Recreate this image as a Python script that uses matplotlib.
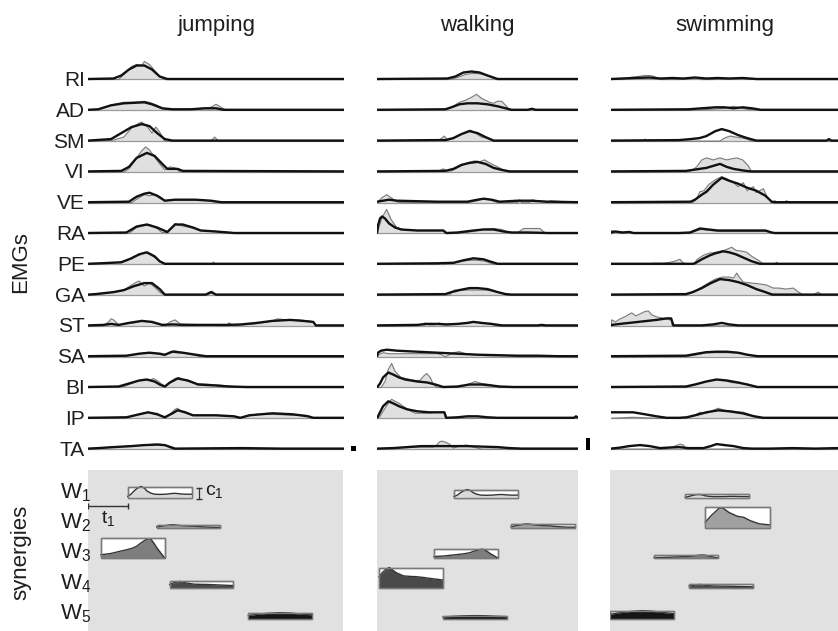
import matplotlib
matplotlib.use('Agg')
import matplotlib.pyplot as plt
from matplotlib.patches import Rectangle
from matplotlib.transforms import blended_transform_factory
import numpy as np

plt.rcParams['font.family'] = ['Liberation Sans', 'DejaVu Sans']
plt.rcParams['mathtext.fontset'] = 'custom'
plt.rcParams['mathtext.rm'] = 'Liberation Sans'
plt.rcParams['mathtext.it'] = 'Liberation Sans:italic'

# ---------------- data ----------------
MUSCLES = ['RI', 'AD', 'SM', 'VI', 'VE', 'RA', 'PE', 'GA', 'ST', 'SA', 'BI', 'IP', 'TA']
BEHAVIORS = ['jumping', 'walking', 'swimming']
CYCLE_MS = {'jumping': 2000, 'walking': 1570, 'swimming': 1775}

# EMG curves: muscle -> (time in % of cycle, amplitude in a.u.)
JUMP_EMG = {
    'RI': ([0, 12, 14, 17, 19, 21, 22, 24, 26, 28, 30, 100], [0, 0, 5, 13, 15, 14, 18, 15, 9, 3, 0, 0]),
    'AD': ([0, 4, 9, 14, 18, 22, 24, 27, 30, 38, 44, 48, 50, 52, 54, 100], [0, 1, 5, 8, 8, 9, 8, 5, 1, 1, 2, 3, 6, 3, 0, 0]),
    'SM': ([0, 10, 14, 17, 20, 21, 23, 25, 26.5, 28, 30, 48, 49.5, 51, 100], [0, 1, 4, 13, 18, 19, 15, 8, 14, 9, 0, 0, 4, 0, 0]),
    'VI': ([0, 14, 16, 19, 21, 22.5, 24, 26, 28, 30, 32, 34, 36, 100], [0, 0, 3, 14, 21, 25, 22, 15, 8, 2, 5, 4, 0, 0]),
    'VE': ([0, 17, 20, 22, 24, 26, 28, 30, 36, 44, 49, 52, 100], [0, 0, 5, 8, 7, 8, 6, 2, 3, 3, 1, 0, 0]),
    'RA': ([0, 16, 19, 22, 24, 27, 29, 31, 33, 34, 36, 40, 44, 50, 56, 58, 100], [0, 0, 6, 8, 9, 5, 1, 1, 6, 10, 8, 6, 3, 2, 1, 0, 0]),
    'PE': ([0, 5, 12, 16, 18, 20, 22, 24, 26, 28, 30, 48, 49, 50, 100], [0, 1, 2, 5, 8, 9, 12, 10, 7, 3, 0, 0, 2, 0, 0]),
    'GA': ([0, 3, 10, 14, 17, 19, 20, 22, 24, 26, 28, 30, 47, 48.5, 50, 100], [0, 1, 3, 5, 10, 13, 14, 9, 12, 8, 3, 0, 0, 4, 0, 0]),
    'ST': ([0, 6, 8, 9, 10, 12, 18, 21, 24, 30, 32, 34, 36, 54, 55, 57, 60, 65, 70, 72, 74, 78, 82, 86, 88, 89, 100],
           [0, 0, 4, 7, 6, 1, 3, 5, 4, 0, 4, 6, 2, 0, 3, 0, 1, 2, 4, 5, 7, 6, 6, 5, 4, 0, 0]),
    'SA': ([0, 16, 20, 23, 27, 30, 32, 34, 37, 41, 44, 100], [0, 1, 3, 4, 3, 1, 5, 6, 4, 2, 0, 0]),
    'BI': ([0, 14, 17, 20, 22, 24, 25.5, 27, 29, 30, 32, 34, 35.5, 38, 42, 48, 53, 60, 100],
           [0, 1, 4, 7, 8, 7, 9, 7, 3, 1, 5, 9, 10, 7, 4, 3, 2, 0, 0]),
    'IP': ([0, 16, 20, 23, 25, 27, 29, 30, 32, 34, 35, 37, 41, 50, 57, 59, 62, 66, 72, 80, 85, 87, 100],
           [0, 1, 4, 6, 5, 5, 2, 0, 4, 9, 10, 6, 3, 3, 2, 0, 2, 4, 4, 3, 3, 0, 0]),
    'TA': ([0, 4, 10, 17, 22, 26, 28, 30, 33, 100], [0, 1, 2, 3, 4, 5, 5, 4, 0, 0]),
}
JUMP_FIT = {
    'RI': ([0, 10, 13, 16, 19, 22, 25, 28, 31, 100], [0.5, 1, 4, 10, 14, 14, 10, 3, 0.5, 0.5]),
    'AD': ([0, 4, 9, 14, 18, 22, 25, 29, 33, 40, 46, 50, 53, 100], [0.5, 1, 5, 7, 7.5, 8, 6, 2, 1, 1, 2, 2, 0.5, 0.5]),
    'SM': ([0, 9, 13, 17, 21, 24, 27, 30, 33, 100], [0.5, 2, 8, 14, 17, 15, 8, 2, 0.5, 0.5]),
    'VI': ([0, 13, 16, 19, 23, 26, 29, 31, 35, 37, 100], [0.5, 1, 5, 14, 19, 16, 8, 3, 3, 1, 0.5]),
    'VE': ([0, 16, 19, 22, 24, 27, 30, 34, 42, 48, 52, 100], [0.5, 1, 6, 9, 10, 7, 2, 3, 3, 2, 0.5, 0.5]),
    'RA': ([0, 15, 19, 23, 27, 31, 34, 37, 41, 44, 50, 57, 100], [0.5, 1, 7, 9, 6, 1.5, 9, 9, 6, 3, 2, 0.5, 0.5]),
    'PE': ([0, 5, 13, 17, 20, 23, 26, 28, 30, 100], [0.5, 1, 2, 6, 10, 12, 8, 3, 0.5, 0.5]),
    'GA': ([0, 3, 10, 14, 18, 22, 25, 28, 30, 46, 48, 50, 100], [0.5, 1, 3, 5, 9, 12, 12, 6, 0.5, 0.5, 3, 0.5, 0.5]),
    'ST': ([0, 6, 9, 12, 16, 21, 25, 29, 33, 37, 55, 60, 66, 72, 79, 84, 88, 89, 100],
           [0.5, 1, 2, 1, 3, 5, 4, 1, 1.5, 1, 1, 1.5, 3, 5, 6, 5, 4, 0.5, 0.5]),
    'SA': ([0, 15, 20, 24, 28, 30, 33, 37, 42, 46, 100], [0.5, 1, 3, 4, 3, 2, 5, 4, 2, 0.5, 0.5]),
    'BI': ([0, 12, 16, 20, 23, 26, 28, 30, 32, 35, 39, 43, 50, 55, 62, 100],
           [0.5, 1, 4, 7, 8, 6, 3, 1, 5, 9, 7, 3, 2, 1, 0.5, 0.5]),
    'IP': ([0, 15, 20, 23.5, 27, 30, 33, 35, 38, 41, 50, 57, 59.5, 63, 72, 80, 86, 88, 100],
           [0.5, 1, 4, 6, 4, 1, 5, 8, 6, 3, 3, 2, 0.5, 3, 5, 4, 2, 0.5, 0.5]),
    'TA': ([0, 4, 10, 17, 22, 27, 30, 34, 60, 75, 100], [0.5, 1, 2, 3, 4, 4.5, 4, 0.5, 1, 0.5, 0.5]),
}

WALK_EMG = {
    'RI': ([0, 36, 40, 44, 47, 50, 53, 56, 59, 100], [0, 0, 2, 5, 6, 6, 5, 3, 0, 0]),
    'AD': ([0, 35, 38, 41, 44, 47, 49.5, 52, 54, 56, 58, 60, 62, 64, 66, 76, 77, 78, 100],
           [0, 1, 4, 8, 10, 13, 16, 12, 10, 8, 7, 9, 9, 5, 0, 0, 2, 0, 0]),
    'SM': ([0, 31, 33.5, 35, 37, 41, 44, 46.5, 49, 52, 55, 58, 100], [0, 1, 5, 1, 2, 6, 9, 11, 8, 4, 3, 0, 0]),
    'VI': ([0, 31, 33, 35, 37, 41, 45, 48.5, 51, 53.5, 56, 60, 63, 66, 100], [0, 1, 3, 1, 1, 5, 9, 11, 10, 12, 9, 5, 2, 0, 0]),
    'VE': ([0, 0.5, 2.5, 4.8, 7, 9.8, 12, 45, 50, 53, 56, 60, 70, 71, 72, 76, 77, 85, 86, 100],
           [0, 1, 5, 8, 5, 1, 0, 0, 2, 4, 3, 0, 0, 3, 0, 0, 3, 0, 2, 0]),
    'RA': ([0, 0.5, 2.5, 4.8, 7, 9.8, 13, 20, 33, 34, 40, 48, 52, 58, 62, 66, 70, 73, 78, 81, 84, 100],
           [0, 3, 16, 24, 14, 6, 4, 3, 3, 0, 0, 2, 4, 5, 4, 1, 1, 5, 5, 5, 0, 0]),
    'PE': ([0, 31, 32, 33, 38, 42, 46, 50, 54, 58, 100], [0, 0, 2, 0, 1, 3, 4, 4, 3, 0, 0]),
    'GA': ([0, 36, 38.5, 42, 46, 50, 54, 58, 62, 65, 100], [0, 0, 5, 5, 5, 5, 5, 4, 2, 0, 0]),
    'ST': ([0, 20, 24, 26, 29, 31, 33, 35, 40, 45, 48, 52, 56, 60, 100], [0, 0, 3, 1, 1, 3, 1, 1, 2, 3, 4, 3, 2, 0, 0]),
    'SA': ([0, 0.7, 3, 6, 10, 20, 30, 32, 34, 36, 38, 41, 44, 48, 55, 65, 70, 85, 90, 100],
           [0, 2, 4, 3, 3, 3, 3, 2, 0, 2, 4, 5, 3, 2, 1, 1, 0, 0, 1, 0]),
    'BI': ([0, 2, 4, 5.6, 7.3, 9, 12, 16.4, 19, 21.4, 23, 24.7, 26.5, 28, 30, 40, 44, 48.8, 52, 56, 61, 100],
           [0, 0, 6, 18, 24, 16, 10, 8, 7, 7, 11, 14, 10, 3, 0, 0, 2, 6, 4, 3, 0, 0]),
    'IP': ([0, 1.5, 4, 6, 7.3, 9, 11, 13, 16, 19, 24, 30, 33.5, 34, 100], [0, 2, 10, 16, 19, 17, 15, 12, 8, 5, 5, 6, 6, 0, 0]),
    'TA': ([0, 8, 20, 28, 29.7, 31, 32.2, 34, 36, 38, 41, 44.6, 48, 52, 100], [0, 1, 2, 2, 4, 7, 8, 7, 5, 1, 3, 4, 2, 0, 0]),
}
WALK_FIT = {
    'RI': ([0, 35, 39, 43, 47, 51, 55, 60, 100], [0.5, 1, 3, 7, 8, 7, 4, 0.5, 0.5]),
    'AD': ([0, 34, 37, 41, 45, 50, 55, 60, 64, 67, 75, 77, 79, 100], [0.5, 1, 3, 6, 7, 7, 6, 4, 2, 0.5, 0.5, 1.5, 0.5, 0.5]),
    'SM': ([0, 30, 34, 38, 42, 46, 50, 54, 58, 100], [0.5, 1, 1, 3, 7, 10, 8, 4, 0.5, 0.5]),
    'VI': ([0, 34, 38, 42, 46, 50, 54, 58, 62, 66, 100], [0.5, 1, 3, 7, 9, 10, 8, 4, 2, 0.5, 0.5]),
    'VE': ([0, 3, 6, 10, 30, 45, 50, 53, 57, 61, 70, 76, 85, 100], [1, 2, 3, 2, 1, 1, 3, 4, 3, 1, 2, 2, 1, 0.5]),
    'RA': ([0, 0.5, 1.5, 2.5, 4, 6, 9, 12, 20, 33, 34.5, 40, 48, 53, 58, 63, 67, 75, 85, 100],
           [0, 8, 15, 17, 15, 10, 6, 4, 3, 3, 0.5, 1, 3, 4, 4, 2, 1, 1, 0.5, 0.5]),
    'PE': ([0, 30, 38, 43, 48, 53, 56, 60, 100], [0.5, 1, 1.5, 4, 6, 5, 3, 0.5, 0.5]),
    'GA': ([0, 34, 37, 41, 46, 50, 55, 60, 64, 67, 100], [0.5, 1, 3, 5, 7, 7, 6, 3, 1, 0.5, 0.5]),
    'ST': ([0, 20, 25, 30, 35, 40, 45, 48, 52, 57, 62, 80, 82, 84, 100], [0.5, 1, 2, 2, 1.5, 2, 3, 4, 3, 2, 0.5, 0.5, 1, 0.5, 0.5]),
    'SA': ([0, 0.5, 2, 4.8, 10, 20, 30, 40, 50, 60, 70, 80, 90, 100], [0, 4, 6, 7, 6, 5, 4, 3, 2, 1.5, 1, 1, 0.5, 0.5]),
    'BI': ([0, 1.5, 3, 5.6, 8, 11, 14, 17, 20, 25, 29, 33, 40, 46, 52, 57, 61, 68, 100],
           [0, 4, 10, 15, 13, 10, 8, 7, 6, 5, 3, 0.5, 1, 3, 3, 2, 1, 0.5, 0.5]),
    'IP': ([0, 1, 3, 5.6, 8, 11, 15, 20, 26, 33.5, 34.5, 40, 45, 50, 55, 60, 98, 99, 100],
           [0, 4, 12, 17, 15, 12, 9, 7, 6, 6, 0.5, 1, 2, 2, 1, 0.5, 0.5, 2, 0.5]),
    'TA': ([0, 8, 15, 22, 30, 38, 45, 52, 60, 66, 72, 100], [0.5, 1, 2, 3, 3, 3, 3, 2.5, 2, 1, 0.5, 0.5]),
}

SWIM_EMG = {
    'RI': ([0, 5, 8.4, 12, 15, 17.2, 19, 21.6, 30, 35, 37.7, 40, 45, 55, 64, 100], [0, 0, 2, 3, 4, 4, 3, 0, 0, 1, 2, 0, 0, 1, 0, 0]),
    'AD': ([0, 36, 44, 50, 52, 54, 56, 60, 66, 100], [0, 0, 1, 2, 3, 4, 3, 1, 0, 0]),
    'SM': ([0, 14, 15, 16, 48, 50, 52.4, 55, 58, 60, 62, 100], [0, 0, 2, 0, 0, 3, 5, 4, 3, 2, 0, 0]),
    'VI': ([0, 34, 36, 37.7, 40, 42.1, 45, 48, 51, 53, 55.4, 58, 60.5, 62, 100], [0, 0, 2, 5, 12, 14, 12, 14, 12, 13, 14, 12, 6, 0, 0]),
    'VE': ([0, 36, 37.7, 39.2, 41, 43, 46, 48.8, 51, 54, 56, 58.3, 60, 62.7, 64, 67.1, 68.5, 70.8, 72.2, 73.5, 76, 77.4, 78.5, 81, 81.8, 82.5, 100],
           [0, 0, 4, 11, 12, 18, 23, 26, 24, 20, 16, 20, 12, 16, 10, 14, 7, 0, 2, 0, 0, 2, 0, 0, 1, 0, 0]),
    'RA': ([0, 0.3, 2, 4, 6, 8, 9, 10, 35, 38, 40, 44, 48, 55, 62, 68, 70.8, 72, 100], [0, 3, 2, 1, 1, 2, 1, 0, 0, 3, 4, 3, 2, 2, 2, 2, 1, 0, 0]),
    'PE': ([0, 16, 18, 20, 23, 26, 28, 30.4, 31.5, 33, 36, 37, 38, 40.7, 43, 46, 50, 53.2, 55, 58, 59.8, 62, 65.6, 67.1, 72, 73, 74, 79, 80, 81, 88, 89, 90, 100],
           [0, 0, 1, 1, 1, 2, 3, 5, 2, 0, 0, 2, 5, 9, 11, 12, 14, 17, 14, 13, 12, 8, 3, 0, 0, 2, 0, 0, 1, 0, 0, 1, 0, 0]),
    'GA': ([0, 33.3, 35, 37.7, 40, 43.6, 46, 49, 52, 54, 55.4, 56.5, 58.3, 62, 66, 68.6, 71.5, 74, 77, 80.3, 82, 84.7, 89, 91.3, 93, 100],
           [0, 0, 2, 5, 8, 13, 16, 18, 18, 17, 22, 18, 13, 12, 11, 10, 7, 7, 6, 7, 4, 0, 0, 3, 0, 0]),
    'ST': ([0, 0.3, 2, 4, 6, 9.1, 11, 12.8, 14.5, 16.4, 18, 20.1, 24.5, 26, 26.7, 27, 100],
           [0, 6, 4, 7, 9, 13, 10, 12, 14, 15, 11, 9, 7, 6, 6, 0, 0]),
    'SA': ([0, 33.3, 38, 42, 46.5, 51, 56, 60, 64.2, 100], [0, 0, 2, 4, 4, 4, 4, 2, 0, 0]),
    'BI': ([0, 33.3, 37, 42, 46.5, 50, 53, 57, 61, 64.2, 100], [0, 0, 3, 6, 8, 7, 5, 4, 3, 0, 0]),
    'IP': ([0, 10, 20, 33.3, 37, 39.2, 42, 45, 47.3, 50, 54, 58.3, 62, 67.1, 100], [0, 1, 0, 0, 3, 6, 5, 8, 10, 8, 7, 6, 3, 0, 0]),
    'TA': ([0, 24.5, 27, 30.4, 31.9, 33, 100], [0, 0, 2, 5, 4, 0, 0]),
}
SWIM_FIT = {
    'RI': ([0, 5, 10, 17, 22, 27, 32, 37, 42, 47, 52, 58, 64, 66, 100], [0.5, 1, 1.5, 2, 1, 1.5, 1, 2, 1, 1.5, 1, 1.5, 0.5, 0.5, 0.5]),
    'AD': ([0, 34, 40, 46, 50, 54, 58, 62, 66, 70, 100], [0.5, 1, 2, 3, 3, 2, 3, 2, 0.5, 0.5, 0.5]),
    'SM': ([0, 30, 35, 39, 42, 46, 48.8, 52, 56, 60, 64, 95, 96, 97, 100], [0.5, 1, 2, 3, 5, 10, 12, 10, 6, 3, 0.5, 0.5, 2, 0.5, 0.5]),
    'VI': ([0, 33, 36, 39, 42, 45, 48, 51, 54, 58, 61.5, 100], [0.5, 1, 2, 3, 4, 6, 8, 5, 3, 1.5, 0.5, 0.5]),
    'VE': ([0, 35, 37, 40, 42.1, 45, 48.8, 52, 56, 60, 64, 68, 70.8, 72, 100], [0.5, 1, 3, 8, 11, 18, 25, 22, 19, 15, 12, 7, 1, 0.5, 0.5]),
    'RA': ([0, 2, 5, 8, 10, 30, 34.8, 39.2, 43, 47, 55, 62, 68, 70.8, 72, 100], [1, 2, 1, 1.5, 0.5, 0.5, 1, 5, 4, 3, 3, 3, 3, 1, 0.5, 0.5]),
    'PE': ([0, 36, 37, 40, 43.6, 46, 49.5, 52, 55, 58, 62, 65.6, 67, 100], [0.5, 0.5, 1, 5, 9, 11, 13, 12, 10, 7, 3, 0.5, 0.5, 0.5]),
    'GA': ([0, 33, 36, 40, 44, 48, 52, 56, 60, 64, 68, 71, 75, 100], [0.5, 1, 3, 7, 12, 16, 15, 13, 10, 6, 3, 0.5, 0.5, 0.5]),
    'ST': ([0, 0.3, 4, 8, 12, 16, 20, 24.5, 26.5, 27.5, 40, 45, 48.8, 52, 56, 100], [0, 1, 2, 3, 4, 5, 6, 7.5, 7.5, 0.5, 0.5, 1.5, 3, 1.5, 0.5, 0.5]),
    'SA': ([0, 33, 38, 42, 46.5, 51, 56, 60, 64.5, 100], [0.5, 1, 3, 4.5, 5, 5, 4, 2, 0.5, 0.5]),
    'BI': ([0, 33, 37, 42, 46.5, 51, 56, 60, 64.5, 100], [0.5, 1, 3, 6, 8, 7, 5, 3, 0.5, 0.5]),
    'IP': ([0, 9.8, 15, 20, 24.5, 30, 33.3, 37, 42, 47.3, 52, 58, 63, 67.1, 100], [6, 6, 4, 2, 0.5, 0.5, 1, 3, 6, 8, 7, 5, 2, 0.5, 0.5]),
    'TA': ([0, 4, 8, 12.8, 17, 21.6, 25, 30, 34, 40.7, 44, 46.5, 50, 54, 58.3, 62, 70, 80, 90, 100],
           [0.5, 1.5, 3, 4, 3, 1, 1.5, 2, 1, 1, 3, 5, 4, 3, 1, 0.5, 0.5, 1, 0.5, 1]),
}

EMG = {'jumping': JUMP_EMG, 'walking': WALK_EMG, 'swimming': SWIM_EMG}
FIT = {'jumping': JUMP_FIT, 'walking': WALK_FIT, 'swimming': SWIM_FIT}

# synergies: waveform (fraction of duration, normalized amplitude)
SYN_LABELS = ['1', '2', '3', '4', '5']
SYN_DUR_MS = 500
W1_SHAPE = ([0, 0.05, 0.1, 0.15, 0.21, 0.26, 0.3, 0.36, 0.42, 0.5, 0.6, 0.68, 0.75, 0.82, 0.9, 1.0],
            [0.1, 0.3, 0.6, 0.85, 1.0, 0.85, 0.6, 0.4, 0.3, 0.28, 0.3, 0.36, 0.38, 0.33, 0.3, 0.3])
W2_SHAPE = ([0, 0.09, 0.22, 0.27, 0.37, 0.5, 0.6, 0.7, 0.84, 1.0],
            [0.27, 0.58, 0.95, 0.95, 0.73, 0.55, 0.5, 0.34, 0.19, 0.14])
W3_SHAPE = ([0, 0.15, 0.28, 0.4, 0.49, 0.56, 0.62, 0.68, 0.73, 0.78, 0.83, 0.88, 0.94, 1.0],
            [0.17, 0.23, 0.33, 0.42, 0.5, 0.6, 0.75, 0.88, 0.97, 0.97, 0.75, 0.5, 0.25, 0.0])
W4_SHAPE = ([0, 0.05, 0.09, 0.16, 0.22, 0.27, 0.38, 0.5, 0.59, 0.7, 0.79, 0.9, 1.0],
            [0.56, 0.75, 0.87, 1.0, 0.86, 0.75, 0.6, 0.57, 0.56, 0.52, 0.48, 0.44, 0.4])
W5_SHAPE = ([0, 0.15, 0.3, 0.5, 0.65, 0.8, 1.0],
            [0.55, 0.75, 0.9, 1.0, 0.95, 0.8, 0.65])
SYN_SHAPES = [W1_SHAPE, W2_SHAPE, W3_SHAPE, W4_SHAPE, W5_SHAPE]
SYN_FILL = ['#dadada', '#a0a0a0', '#7e7e7e', '#4a4a4a', '#151515']

ONSET_MS = {
    'jumping': [312, 539, 102, 641, 1258],
    'walking': [602, 1047, 445, 16, 516],
    'swimming': [586, 742, 344, 617, 0],
}
AMPLITUDE = {
    'jumping': [0.50, 0.14, 0.90, 0.32, 0.27],
    'walking': [0.36, 0.18, 0.41, 0.95, 0.14],
    'swimming': [0.14, 0.95, 0.14, 0.18, 0.36],
}

# ---------------- layout ----------------
FW, FH = 838, 631
PANEL_X = {'jumping': (88, 344), 'walking': (377, 578), 'swimming': (611, 838)}
EMG_TOP, EMG_BOT = 45, 462
ROW0, ROW_STEP = 79.5, 30.8
SYN_TOP, SYN_BOT = 470, 631
SYN_ROW0, SYN_STEP = 497.5, 30.3
SYN_HEIGHT = 22.0   # box height (px units) for amplitude 1
TXT = '#1e1e1e'

fig = plt.figure(figsize=(FW / 100, FH / 100), dpi=100)


def px_axes(x0, x1, y0, y1):
    return fig.add_axes([x0 / FW, 1 - y1 / FH, (x1 - x0) / FW, (y1 - y0) / FH])


for b in BEHAVIORS:
    x0, x1 = PANEL_X[b]
    ax = px_axes(x0, x1, EMG_TOP, EMG_BOT)
    ax.set_xlim(0, 100)
    ax.set_ylim(EMG_BOT, EMG_TOP)
    ax.axis('off')
    for i, m in enumerate(MUSCLES):
        base = ROW0 + ROW_STEP * i
        t, v = EMG[b][m]
        t = np.asarray(t, float)
        y = base - np.asarray(v, float)
        ax.fill_between(t, y, base, color='#e0e0e0', lw=0, zorder=1)
        ax.plot([0, 100], [base, base], color='#9a9a9a', lw=0.9, zorder=2)
        ax.plot(t, y, color='#7d7d7d', lw=0.85, zorder=3)
        tf, vf = FIT[b][m]
        ax.plot(tf, base - np.asarray(vf, float), color='#111111', lw=1.7, zorder=4,
                solid_joinstyle='round', solid_capstyle='butt')
        if b == 'jumping':
            tr = blended_transform_factory(ax.transAxes, ax.transData)
            ax.text(-0.012, base + 1, m, transform=tr, ha='right', va='center',
                    fontsize=15, color=TXT)
    fig.text(((x0 + x1) / 2) / FW, 1 - 25 / FH, b, ha='center', va='center',
             fontsize=16, color=TXT)

    # synergy panel
    sx = px_axes(x0 if b != 'swimming' else 610, x1 - (1 if b == 'jumping' else 0), SYN_TOP, SYN_BOT)
    sx.set_xlim(0, CYCLE_MS[b])
    sx.set_ylim(SYN_BOT, SYN_TOP)
    sx.set_facecolor('#e1e1e1')
    for s in sx.spines.values():
        s.set_visible(False)
    sx.set_xticks([])
    sx.set_yticks([])
    for k in range(5):
        base = SYN_ROW0 + SYN_STEP * k
        h = AMPLITUDE[b][k] * SYN_HEIGHT
        on = ONSET_MS[b][k]
        st, sv = SYN_SHAPES[k]
        tt = on + np.asarray(st) * SYN_DUR_MS
        yy = base - np.asarray(sv) * h
        sx.add_patch(Rectangle((on, base - h), SYN_DUR_MS, h, facecolor='white',
                               edgecolor='#7a7a7a', lw=1.0, zorder=2))
        sx.fill_between(tt, yy, base, color=SYN_FILL[k], lw=0, zorder=3)
        sx.plot(tt, yy, color='#333333', lw=1.0, zorder=4)
        sx.add_patch(Rectangle((on, base - h), SYN_DUR_MS, h, facecolor='none',
                               edgecolor='#7a7a7a', lw=1.0, zorder=5))
        if b == 'jumping':
            fig.text(60 / FW, 1 - (base - 5) / FH, r'W$_{%s}$' % SYN_LABELS[k],
                     ha='left', va='center', fontsize=16, color=TXT)
    if b == 'jumping':
        # t1 and c1 annotations
        ms_per_px = CYCLE_MS[b] / (x1 - x0)
        on1 = ONSET_MS[b][0]
        yl = SYN_ROW0 + 8.5
        sx.plot([0, on1], [yl, yl], color='#333333', lw=1.0, marker='|', ms=4, mew=1.0, zorder=6)
        sx.text(on1 / 2, yl + 12, r't$_1$', ha='center', va='center', fontsize=14, color=TXT)
        xc = on1 + SYN_DUR_MS + 8 * ms_per_px
        h1 = AMPLITUDE[b][0] * SYN_HEIGHT
        b1 = SYN_ROW0 + 1
        sx.plot([xc, xc], [b1, b1 - h1], color='#333333', lw=0.9, marker='_', ms=4, mew=1.0, zorder=6)
        sx.text(xc + 6 * ms_per_px, b1 - h1 / 2 - 2, r'c$_1$', ha='left', va='center',
                fontsize=14, color=TXT)

# EMG gain scale bars
fig.add_artist(Rectangle((351 / FW, 1 - 451 / FH), 5 / FW, 5 / FH, transform=fig.transFigure,
                         facecolor='black', edgecolor='none'))
fig.add_artist(Rectangle((586 / FW, 1 - 450 / FH), 4 / FW, 12 / FH, transform=fig.transFigure,
                         facecolor='black', edgecolor='none'))

fig.text(21 / FW, 1 - 262 / FH, 'EMGs', rotation=90, ha='center', va='center', fontsize=16, color=TXT)
fig.text(21 / FW, 1 - 552 / FH, 'synergies', rotation=90, ha='center', va='center', fontsize=16, color=TXT)

fig.savefig('out.png', dpi=100, facecolor='white')
